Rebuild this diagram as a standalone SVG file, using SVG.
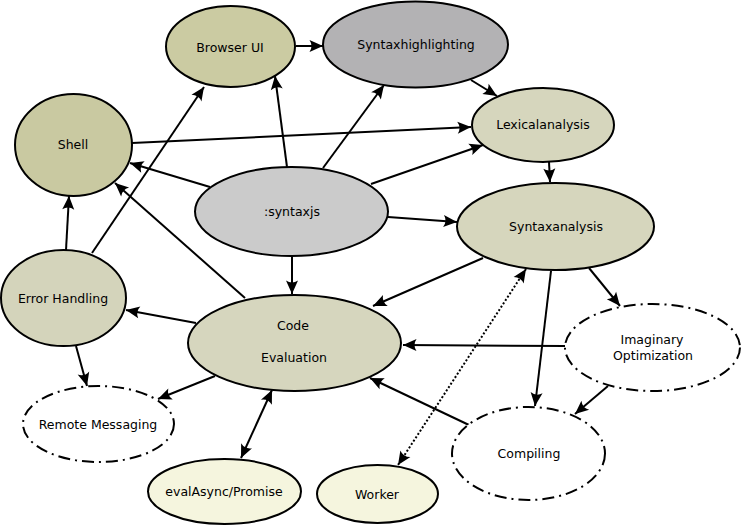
<svg xmlns="http://www.w3.org/2000/svg" width="742" height="527" viewBox="0 0 742 527">
<style>
.n{stroke:#000;stroke-width:2}
.d{fill:#fff;stroke:#000;stroke-width:2;stroke-dasharray:12,5,2,5}
.t{font-family:"DejaVu Sans",sans-serif;font-size:12.5px;text-anchor:middle;fill:#000}
.e{fill:none;stroke:#000;stroke-width:2}
.dot{fill:none;stroke:#000;stroke-width:2;stroke-dasharray:2,2}
</style>
<defs>
<marker id="a" markerUnits="userSpaceOnUse" markerWidth="16" markerHeight="14" refX="14" refY="7" orient="auto-start-reverse" overflow="visible">
<path d="M14,7 L0.5,1 Q4.5,7 0.5,13 Z" fill="#000"/>
</marker>
</defs>
<g id="connectors">
<line class="e" x1="296" y1="46" x2="323" y2="46" marker-end="url(#a)"/>
<line class="e" x1="471" y1="80" x2="497" y2="96" marker-end="url(#a)"/>
<line class="e" x1="132" y1="143" x2="471" y2="127" marker-end="url(#a)"/>
<line class="e" x1="287" y1="167" x2="275" y2="76" marker-end="url(#a)"/>
<line class="e" x1="323" y1="168" x2="384" y2="85" marker-end="url(#a)"/>
<line class="e" x1="371" y1="184" x2="483" y2="145" marker-end="url(#a)"/>
<line class="e" x1="388" y1="217" x2="457" y2="222" marker-end="url(#a)"/>
<line class="e" x1="210" y1="187" x2="130" y2="163" marker-end="url(#a)"/>
<line class="e" x1="292" y1="256" x2="292" y2="294" marker-end="url(#a)"/>
<line class="e" x1="245" y1="298" x2="115" y2="183" marker-end="url(#a)"/>
<line class="e" x1="66" y1="250" x2="69" y2="196" marker-end="url(#a)"/>
<line class="e" x1="92" y1="253" x2="204" y2="87" marker-end="url(#a)"/>
<line class="e" x1="549" y1="162" x2="550" y2="182" marker-end="url(#a)"/>
<line class="e" x1="483" y1="258" x2="373" y2="306" marker-end="url(#a)"/>
<line class="e" x1="196" y1="323" x2="126" y2="310" marker-end="url(#a)"/>
<line class="e" x1="76" y1="346" x2="87" y2="386" marker-end="url(#a)"/>
<line class="e" x1="215" y1="376" x2="158" y2="399" marker-end="url(#a)"/>
<line class="e" x1="272" y1="390" x2="241" y2="458" marker-start="url(#a)" marker-end="url(#a)"/>
<line class="dot" x1="526" y1="269" x2="398" y2="465" marker-start="url(#a)" marker-end="url(#a)"/>
<line class="e" x1="589" y1="268" x2="620" y2="306" marker-end="url(#a)"/>
<line class="e" x1="551" y1="271" x2="535" y2="406" marker-end="url(#a)"/>
<line class="e" x1="565" y1="346" x2="403" y2="345" marker-end="url(#a)"/>
<line class="e" x1="608" y1="386" x2="575" y2="414" marker-end="url(#a)"/>
<line class="e" x1="469" y1="425" x2="370" y2="378" marker-end="url(#a)"/>
</g>
<g id="browser-ui"><ellipse class="n" cx="230.5" cy="46.5" rx="64.5" ry="40.5" fill="#cbcba2"/><text class="t" x="230" y="51.5">Browser UI</text></g>
<g id="syntaxhighlighting"><ellipse class="n" cx="415.5" cy="44.5" rx="92.5" ry="43" fill="#b3b2b4"/><text class="t" x="416" y="49">Syntaxhighlighting</text></g>
<g id="shell"><ellipse class="n" cx="73.5" cy="145" rx="58.5" ry="51" fill="#c9c9a1"/><text class="t" x="73" y="149">Shell</text></g>
<g id="lexicalanalysis"><ellipse class="n" cx="543" cy="125" rx="71" ry="37" fill="#d6d6bd"/><text class="t" x="543" y="129">Lexicalanalysis</text></g>
<g id="syntaxjs"><ellipse class="n" cx="291.5" cy="211.5" rx="96.5" ry="44.5" fill="#cbcbcb"/><text class="t" x="292" y="215.5">:syntaxjs</text></g>
<g id="syntaxanalysis"><ellipse class="n" cx="555.5" cy="226.5" rx="98.5" ry="43.5" fill="#d6d6bd"/><text class="t" x="556" y="231">Syntaxanalysis</text></g>
<g id="error-handling"><ellipse class="n" cx="63.5" cy="298" rx="62.5" ry="48" fill="#d4d4bb"/><text class="t" x="63" y="302.5">Error Handling</text></g>
<g id="code-evaluation"><ellipse class="n" cx="294.5" cy="343" rx="106.5" ry="48" fill="#d6d6be"/><text class="t" x="293" y="329.5">Code</text><text class="t" x="294" y="361.5">Evaluation</text></g>
<g id="remote-messaging"><ellipse class="d" cx="98.5" cy="424" rx="75.5" ry="38"/><text class="t" x="98" y="429">Remote Messaging</text></g>
<g id="evalasync-promise"><ellipse class="n" cx="224.5" cy="491.5" rx="76.5" ry="32.5" fill="#f5f5de"/><text class="t" x="224" y="496">evalAsync/Promise</text></g>
<g id="worker"><ellipse class="n" cx="377.5" cy="494" rx="60.5" ry="29" fill="#f5f5de"/><text class="t" x="377" y="498.5">Worker</text></g>
<g id="imaginary-optimization"><ellipse class="d" cx="652.5" cy="347.5" rx="87.5" ry="43.5"/><text class="t" x="652" y="344">Imaginary</text><text class="t" x="653" y="360">Optimization</text></g>
<g id="compiling"><ellipse class="d" cx="528.5" cy="453.5" rx="76.5" ry="46.5"/><text class="t" x="529" y="457.5">Compiling</text></g>
</svg>
